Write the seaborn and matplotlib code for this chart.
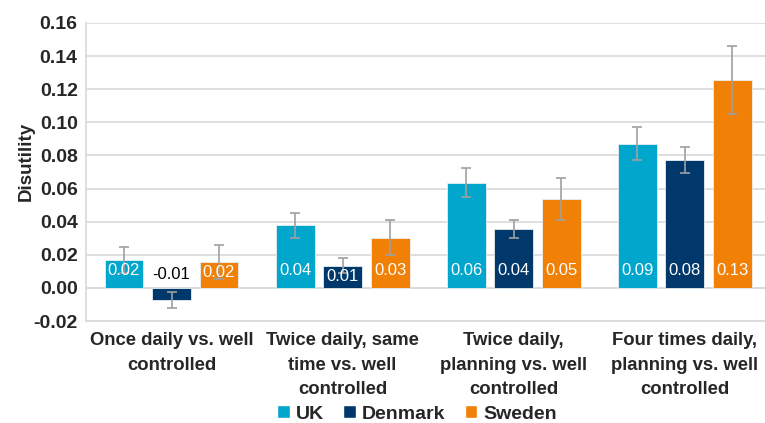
import numpy as np
import pandas as pd
import seaborn as sns
import matplotlib.pyplot as plt
from matplotlib.patches import Patch

categories = ["Once daily vs. well\ncontrolled",
              "Twice daily, same\ntime vs. well\ncontrolled",
              "Twice daily,\nplanning vs. well\ncontrolled",
              "Four times daily,\nplanning vs. well\ncontrolled"]
countries = ["UK", "Denmark", "Sweden"]

uk = [0.0170, 0.0378, 0.0636, 0.0871]
denmark = [-0.0073, 0.0133, 0.0358, 0.0774]
sweden = [0.0158, 0.0303, 0.0537, 0.1255]

uk_err = [0.0078, 0.0076, 0.0088, 0.0099]
denmark_err = [0.0048, 0.0045, 0.0055, 0.0080]
sweden_err = [0.0103, 0.0106, 0.0129, 0.0207]

colors = {"UK": "#00A6CC", "Denmark": "#00386B", "Sweden": "#F08006"}

df = pd.DataFrame({
    "category": categories * 3,
    "country": np.repeat(countries, 4),
    "value": uk + denmark + sweden,
    "err": uk_err + denmark_err + sweden_err,
})

sns.set_style("white")
plt.rcParams['font.family'] = ['Liberation Sans', 'DejaVu Sans']

fig = plt.figure(figsize=(7.65, 4.23), dpi=100)
ax = fig.add_axes([86 / 765, (423 - 321) / 423, (765 - 86) / 765, 298 / 423])

sns.barplot(data=df, x="category", y="value", hue="country", order=categories,
            hue_order=countries, palette=colors, saturation=1, width=0.833, gap=0.18,
            errorbar=None, legend=False, ax=ax, edgecolor="#e8eef2", linewidth=0.6,
            zorder=2)

for cont, country in zip(ax.containers, countries):
    sub = df[df.country == country].set_index("category").loc[categories]
    xs = [b.get_x() + b.get_width() / 2 for b in cont]
    ax.errorbar(xs, sub.value, yerr=sub.err, fmt="none", ecolor="#a0a0a0",
                elinewidth=1.2, capsize=3.5, capthick=1.2, zorder=3)
    for x, v in zip(xs, sub.value):
        txt = f"{v:.2f}"
        if v < 0:
            ax.text(x, 0.0079, txt, ha="center", va="center", fontsize=12,
                    color="black", zorder=4)
        else:
            ax.text(x, min(0.0103, v - 0.0066), txt, ha="center", va="center",
                    fontsize=12, color="white", zorder=4)

ax.set_ylim(-0.02, 0.16)
ax.set_xlim(-0.5, 3.47)
ax.set_yticks(np.arange(-0.02, 0.161, 0.02))
ax.set_yticklabels([f"{t:.2f}" for t in np.arange(-0.02, 0.161, 0.02)],
                   fontsize=14, fontweight="bold")
ax.yaxis.grid(True, color="#d9d9d9", linewidth=1.2, zorder=0)
ax.axhline(0, color="#d9d9d9", linewidth=1.2, zorder=1)
ax.set_axisbelow(True)
ax.tick_params(axis="x", length=0, pad=8)
ax.tick_params(axis="y", length=0, pad=6)
ax.set_xticks(range(4))
ax.set_xticklabels(categories, fontsize=13.3, fontweight="bold", linespacing=1.58)
ax.set_xlabel("")
ax.set_ylabel("Disutility", fontsize=13.5, fontweight="bold")
ax.yaxis.set_label_coords(-0.076, 0.537)
for s in ["top", "right"]:
    ax.spines[s].set_visible(False)
for s in ["left", "bottom"]:
    ax.spines[s].set_color("#d9d9d9")
    ax.spines[s].set_linewidth(1.2)

handles = [Patch(facecolor=colors[c], label=c) for c in countries]
fig.legend(handles=handles, loc="center", bbox_to_anchor=(0.545, 0.021), ncol=3,
           frameon=False, handlelength=0.65, handleheight=0.65, handletextpad=0.3,
           columnspacing=1.0, prop={"weight": "bold", "size": 14})

fig.savefig("out.png", dpi=100)
